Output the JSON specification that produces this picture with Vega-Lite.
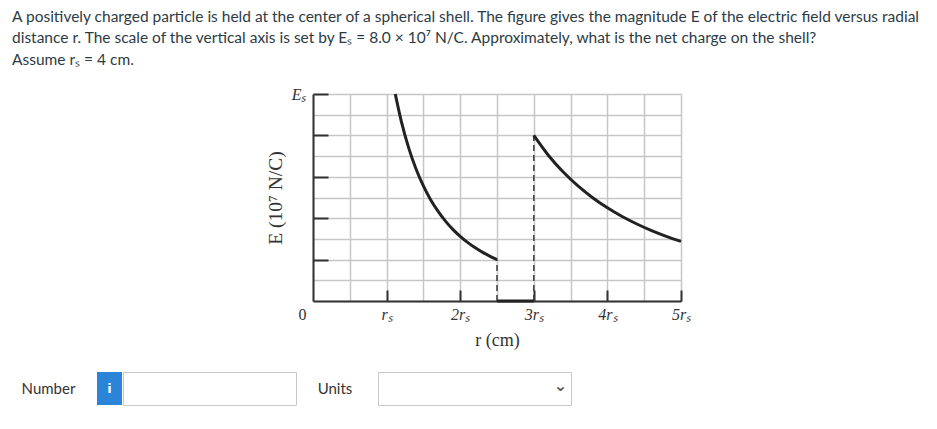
{
  "$schema": "https://vega.github.io/schema/vega-lite/v6.json",
  "background": "white",
  "padding": {"left": 12, "top": 9, "right": 0, "bottom": 0},
  "title": {
    "text": [
      "A positively charged particle is held at the center of a spherical shell. The figure gives the magnitude E of the electric field versus radial",
      "distance r. The scale of the vertical axis is set by Eₛ = 8.0 × 10⁷ N/C. Approximately, what is the net charge on the shell?",
      "Assume rₛ = 4 cm."
    ],
    "anchor": "start",
    "font": "Lato",
    "fontSize": 15.5,
    "fontWeight": "normal",
    "color": "#2d3b45",
    "lineHeight": 21.5,
    "offset": 18
  },
  "datasets": {
    "curves": [
      {"seg": "inner", "r": 1.118, "E": 1.0},
      {"seg": "inner", "r": 1.2, "E": 0.868},
      {"seg": "inner", "r": 1.3, "E": 0.74},
      {"seg": "inner", "r": 1.4, "E": 0.638},
      {"seg": "inner", "r": 1.5, "E": 0.556},
      {"seg": "inner", "r": 1.6, "E": 0.488},
      {"seg": "inner", "r": 1.7, "E": 0.433},
      {"seg": "inner", "r": 1.8, "E": 0.386},
      {"seg": "inner", "r": 1.9, "E": 0.346},
      {"seg": "inner", "r": 2.0, "E": 0.3125},
      {"seg": "inner", "r": 2.1, "E": 0.283},
      {"seg": "inner", "r": 2.2, "E": 0.258},
      {"seg": "inner", "r": 2.3, "E": 0.236},
      {"seg": "inner", "r": 2.4, "E": 0.217},
      {"seg": "inner", "r": 2.5, "E": 0.2},
      {"seg": "shell", "r": 2.5, "E": 0.0},
      {"seg": "shell", "r": 3.0, "E": 0.0},
      {"seg": "outer", "r": 3.0, "E": 0.8},
      {"seg": "outer", "r": 3.2, "E": 0.703},
      {"seg": "outer", "r": 3.4, "E": 0.623},
      {"seg": "outer", "r": 3.6, "E": 0.556},
      {"seg": "outer", "r": 3.8, "E": 0.499},
      {"seg": "outer", "r": 4.0, "E": 0.45},
      {"seg": "outer", "r": 4.2, "E": 0.408},
      {"seg": "outer", "r": 4.4, "E": 0.372},
      {"seg": "outer", "r": 4.6, "E": 0.34},
      {"seg": "outer", "r": 4.8, "E": 0.3125},
      {"seg": "outer", "r": 5.0, "E": 0.288}
    ],
    "jumps": [
      {"r": 2.5, "E": 0.0, "E2": 0.2},
      {"r": 3.0, "E": 0.0, "E2": 0.8}
    ]
  },
  "vconcat": [
    {
      "hconcat": [
        {
          "width": 253,
          "height": 10,
          "data": {"values": [{"t": ""}]},
          "mark": {"type": "text"},
          "encoding": {"text": {"field": "t"}}
        },
        {
          "width": 368,
          "height": 207,
          "encoding": {
            "x": {
              "field": "r",
              "type": "quantitative",
              "scale": {"domain": [0, 5], "nice": false, "zero": true},
              "axis": {
                "values": [0, 0.5, 1, 1.5, 2, 2.5, 3, 3.5, 4, 4.5, 5],
                "grid": true,
                "gridColor": "#c6c6c6",
                "gridWidth": 1.5,
                "domainColor": "#333333",
                "domainWidth": 2,
                "tickSize": -11,
                "tickWidth": 2,
                "tickColor": "#333333",
                "tickOpacity": {"condition": {"test": "datum.value > 0 && datum.value % 1 == 0", "value": 1}, "value": 0},
                "labelExpr": "datum.value == 0 ? '0' : (datum.value % 1 == 0 ? (datum.value == 1 ? '' : datum.value) + 'rₛ' : '')",
                "labelFont": "Liberation Serif",
                "labelFontSize": 16,
                "labelFontStyle": {"condition": {"test": "datum.value == 0", "value": "normal"}, "value": "italic"},
                "labelColor": "#333333",
                "labelPadding": 16,
                "labelFlush": false,
                "labelOverlap": false,
                "labelOffset": {"condition": {"test": "datum.value == 0", "value": -11}, "value": 0},
                "title": "r (cm)",
                "titleFont": "Liberation Serif",
                "titleFontSize": 18,
                "titleFontWeight": "normal",
                "titleColor": "#333333",
                "titlePadding": 9
              }
            },
            "y": {
              "field": "E",
              "type": "quantitative",
              "scale": {"domain": [0, 1], "nice": false},
              "axis": {
                "values": [0, 0.1, 0.2, 0.3, 0.4, 0.5, 0.6, 0.7, 0.8, 0.9, 1],
                "grid": true,
                "gridColor": "#c6c6c6",
                "gridWidth": 1.5,
                "domainColor": "#333333",
                "domainWidth": 2,
                "tickSize": -15,
                "tickWidth": 2,
                "tickColor": "#333333",
                "tickOpacity": {"condition": {"test": "datum.value > 0.05 && abs(datum.value * 5 - round(datum.value * 5)) < 0.01", "value": 1}, "value": 0},
                "labelExpr": "datum.value == 1 ? 'Eₛ' : ''",
                "labelFont": "Liberation Serif",
                "labelFontStyle": "italic",
                "labelFontSize": 16,
                "labelColor": "#333333",
                "labelPadding": 22,
                "labelOverlap": false,
                "labelFlush": false,
                "title": "E (10⁷ N/C)",
                "titleFont": "Liberation Serif",
                "titleFontSize": 19.5,
                "titleFontWeight": "normal",
                "titleColor": "#333333",
                "titlePadding": 6
              }
            }
          },
          "layer": [
            {
              "data": {"name": "jumps"},
              "mark": {"type": "rule", "strokeDash": [6, 4], "strokeWidth": 1.6, "color": "#444444"},
              "encoding": {"y2": {"field": "E2"}}
            },
            {
              "data": {"name": "curves"},
              "mark": {"type": "line", "color": "#222222", "strokeWidth": 3, "interpolate": "monotone"},
              "encoding": {"detail": {"field": "seg", "type": "nominal"}}
            }
          ]
        }
      ],
      "spacing": 0
    },
    {
      "hconcat": [
        {
          "width": 65,
          "height": 33,
          "data": {"values": [{"t": "Number"}]},
          "mark": {"type": "text", "font": "Lato", "fontSize": 15, "color": "#333333", "dx": 4},
          "encoding": {"text": {"field": "t"}}
        },
        {
          "hconcat": [
            {
              "width": 25,
              "height": 33,
              "view": {"fill": "#2a84d8", "stroke": null},
              "data": {"values": [{"t": "i"}]},
              "mark": {"type": "text", "font": "DejaVu Sans", "fontWeight": "bold", "fontSize": 13, "color": "white"},
              "encoding": {"text": {"field": "t"}}
            },
            {
              "width": 173,
              "height": 33,
              "view": {"fill": "white", "stroke": "#c8c8c8"},
              "data": {"values": [{"t": ""}]},
              "mark": {"type": "text"},
              "encoding": {"text": {"field": "t"}}
            }
          ],
          "spacing": 0
        },
        {
          "width": 40,
          "height": 33,
          "data": {"values": [{"t": "Units"}]},
          "mark": {"type": "text", "font": "Lato", "fontSize": 15, "color": "#333333", "dx": -2},
          "encoding": {"text": {"field": "t"}}
        },
        {
          "width": 193,
          "height": 33,
          "view": {"fill": "white", "stroke": "#c8c8c8"},
          "data": {"values": [{"t": "⌄"}]},
          "mark": {"type": "text", "font": "DejaVu Sans", "fontSize": 16, "fontWeight": "bold", "color": "#555555", "dx": 86, "dy": -3},
          "encoding": {"text": {"field": "t"}}
        }
      ],
      "spacing": 20
    }
  ],
  "spacing": 22,
  "config": {"view": {"stroke": null}}
}
